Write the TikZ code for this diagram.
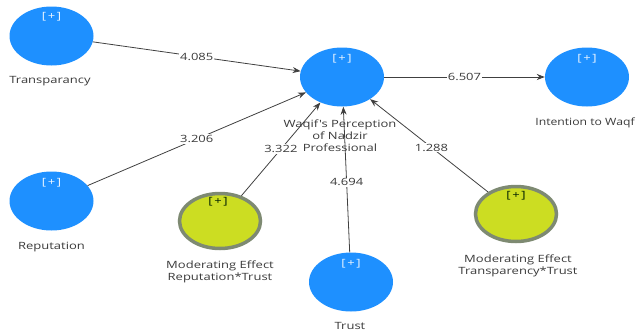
\documentclass[tikz,border=0pt]{standalone}
\usepackage{fontspec}
\setmainfont{Open Sans}
\newfontfamily\labfont[FakeStretch=1.3]{Open Sans}
\newfontfamily\labfontn[FakeStretch=1.22]{Open Sans}
\usetikzlibrary{arrows.meta,shapes.geometric}
\definecolor{lvblue}{HTML}{1E90FF}
\definecolor{modyel}{HTML}{CCDD22}
\definecolor{modring}{HTML}{7E8A72}
\definecolor{txtgray}{HTML}{3A3A3A}
\begin{document}
\begin{tikzpicture}[x=1pt,y=-1pt,
  lv/.style={ellipse, fill=lvblue, minimum width=84pt, minimum height=59pt, inner sep=0pt},
  mod/.style={ellipse, fill=modyel, draw=modring, line width=3.5pt, minimum width=81pt, minimum height=55pt, inner sep=0pt},
  plus/.style={font=\labfont\fontsize{10}{11}\selectfont, text=white!92!lvblue},
  plusm/.style={font=\labfont\fontsize{10}{11}\selectfont, text=black!70!green!40!black},
  lab/.style={font=\labfont\fontsize{10}{12}\selectfont, text=txtgray, align=center},
  pathline/.style={draw=black!75, line width=0.8pt, -{Stealth[length=8pt,width=6pt]}},
  wt/.style={fill=white, inner sep=1pt, font=\labfont\fontsize{10}{11}\selectfont, text=txtgray}
]
\useasboundingbox (0,0) rectangle (642,335);
% latent variables
\node[lv] (tr) at (51.5,36) {};
\node[lv] (wp) at (342,77) {};
\node[lv] (iw) at (587,77) {};
\node[lv] (rep) at (51.5,201) {};
\node[lv] (tru) at (351,282) {};
\node[mod] (mrt) at (220,221) {};
\node[mod] (mtt) at (516,214) {};
% [+] marks
\node[plus] (ptr) at (51.5,17) {[\,+\,]};
\node[plus] (pwp) at (342,59) {[\,+\,]};
\node[plus] (piw) at (587,59) {[\,+\,]};
\node[plus] (prep) at (51.5,183) {[\,+\,]};
\node[plus] (ptru) at (351,264) {[\,+\,]};
\node[plusm] (pmrt) at (218,202) {[\,+\,]};
\node[plusm] (pmtt) at (516,196) {[\,+\,]};
% labels
\node[lab] (ltr) at (50,81.5) {Transparancy};
\node[lab] (lwp) at (340,136) {Waqif's Perception\\of Nadzir\\Professional};
\node[lab, font=\labfontn\fontsize{10}{12}\selectfont] (liw) at (585,123) {Intention to Waqf};
\node[lab] (lrep) at (51.5,247) {Reputation};
\node[lab] (lmrt) at (220,272) {Moderating Effect\\Reputation*Trust};
\node[lab] (lmtt) at (518,265.5) {Moderating Effect\\Transparency*Trust};
\node[lab] (ltru) at (350,326) {Trust};
% paths
\draw[pathline] (tr) -- node[wt, pos=0.5] {4.085} (wp);
\draw[pathline] (rep) -- node[wt, pos=0.5] {3.206} (wp);
\draw[pathline] (mrt) -- node[wt, pos=0.5] {3.322} (wp);
\draw[pathline] (tru) -- node[wt, pos=0.48] {4.694} (wp);
\draw[pathline] (mtt) -- node[wt, pos=0.48] {1.288} (wp);
\draw[pathline] (wp) -- node[wt, pos=0.5] {6.507} (iw);
\end{tikzpicture}
\end{document}
